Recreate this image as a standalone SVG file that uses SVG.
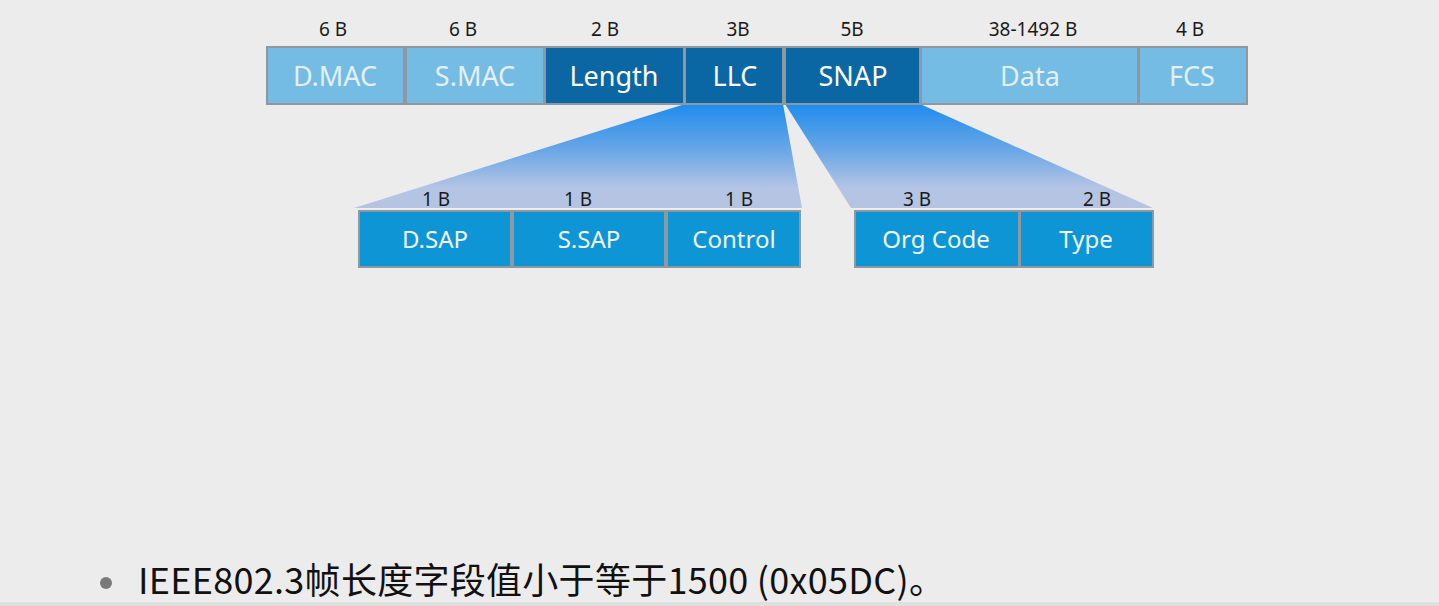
<svg xmlns="http://www.w3.org/2000/svg" width="1439" height="606" viewBox="0 0 1439 606">
<defs>
<linearGradient id="fan" x1="0" y1="0" x2="0" y2="1">
<stop offset="0" stop-color="#1f8cee"/>
<stop offset="0.45" stop-color="#6aa7e6"/>
<stop offset="0.8" stop-color="#b3c4e4"/>
<stop offset="1" stop-color="#b6c4e2"/>
</linearGradient>
<style>
.lt{fill:#74bce4;stroke:#8f98a0;stroke-width:2}
.dk{fill:#0b66a4;stroke:#8f98a0;stroke-width:2}
.sb{fill:#0d95d6;stroke:#8f98a0;stroke-width:2}
.sz{font-family:"Noto Sans","Open Sans",sans-serif;font-size:19px;fill:#1a1a1a;text-anchor:middle}
.bt{font-family:"Noto Sans","Open Sans",sans-serif;font-size:27px;text-anchor:middle}
.lw{fill:#e3f0f9}
.dw{fill:#ffffff}
.st{font-family:"Noto Sans","Open Sans",sans-serif;font-size:24px;fill:#f2f8fc;text-anchor:middle}
</style>
</defs>
<rect x="0" y="0" width="1439" height="606" fill="#edecec"/>
<rect x="0" y="602" width="1439" height="4" fill="#dfdfdf"/>

<g id="connectors">
<polygon points="685,104 783,104 802,208 354,208" fill="url(#fan)"/>
<polygon points="785,104 920,104 1153,208 851,208" fill="url(#fan)"/>
</g>

<g id="dmac"><rect class="lt" x="267" y="47" width="137" height="57"/><text class="sz" x="333" y="36">6 B</text><text class="bt lw" x="335" y="86">D.MAC</text></g>
<g id="smac"><rect class="lt" x="406" y="47" width="138" height="57"/><text class="sz" x="463" y="36">6 B</text><text class="bt lw" x="475" y="86">S.MAC</text></g>
<g id="length"><rect class="dk" x="545" y="47" width="139" height="57"/><text class="sz" x="605" y="36">2 B</text><text class="bt dw" x="614" y="86">Length</text></g>
<g id="llc"><rect class="dk" x="685" y="47" width="98" height="57"/><text class="sz" x="738" y="36">3B</text><text class="bt dw" x="735" y="86">LLC</text></g>
<g id="snap"><rect class="dk" x="785" y="47" width="135" height="57"/><text class="sz" x="852" y="36">5B</text><text class="bt dw" x="853" y="86">SNAP</text></g>
<g id="data"><rect class="lt" x="921" y="47" width="217" height="57"/><text class="sz" x="1033" y="36">38-1492 B</text><text class="bt lw" x="1030" y="86">Data</text></g>
<g id="fcs"><rect class="lt" x="1139" y="47" width="108" height="57"/><text class="sz" x="1190" y="36">4 B</text><text class="bt lw" x="1192" y="86">FCS</text></g>

<g id="dsap"><rect class="sb" x="359" y="211" width="152" height="56"/><text class="sz" x="436" y="206">1 B</text><text class="st" x="435" y="248">D.SAP</text></g>
<g id="ssap"><rect class="sb" x="513" y="211" width="152" height="56"/><text class="sz" x="578" y="206">1 B</text><text class="st" x="589" y="248">S.SAP</text></g>
<g id="control"><rect class="sb" x="667" y="211" width="133" height="56"/><text class="sz" x="739" y="206">1 B</text><text class="st" x="734" y="248">Control</text></g>
<g id="orgcode"><rect class="sb" x="855" y="211" width="164" height="56"/><text class="sz" x="917" y="206">3 B</text><text class="st" x="936" y="248">Org Code</text></g>
<g id="type"><rect class="sb" x="1020" y="211" width="133" height="56"/><text class="sz" x="1097" y="206">2 B</text><text class="st" x="1086" y="248">Type</text></g>

<g id="note">
<circle cx="106" cy="583" r="6" fill="#7a7a7a"/>
<text x="138" y="594" font-family="'Noto Sans CJK SC','Noto Sans',sans-serif" font-size="36" textLength="807" fill="#111">IEEE802.3帧长度字段值小于等于1500 (0x05DC)。</text>
</g>
</svg>
